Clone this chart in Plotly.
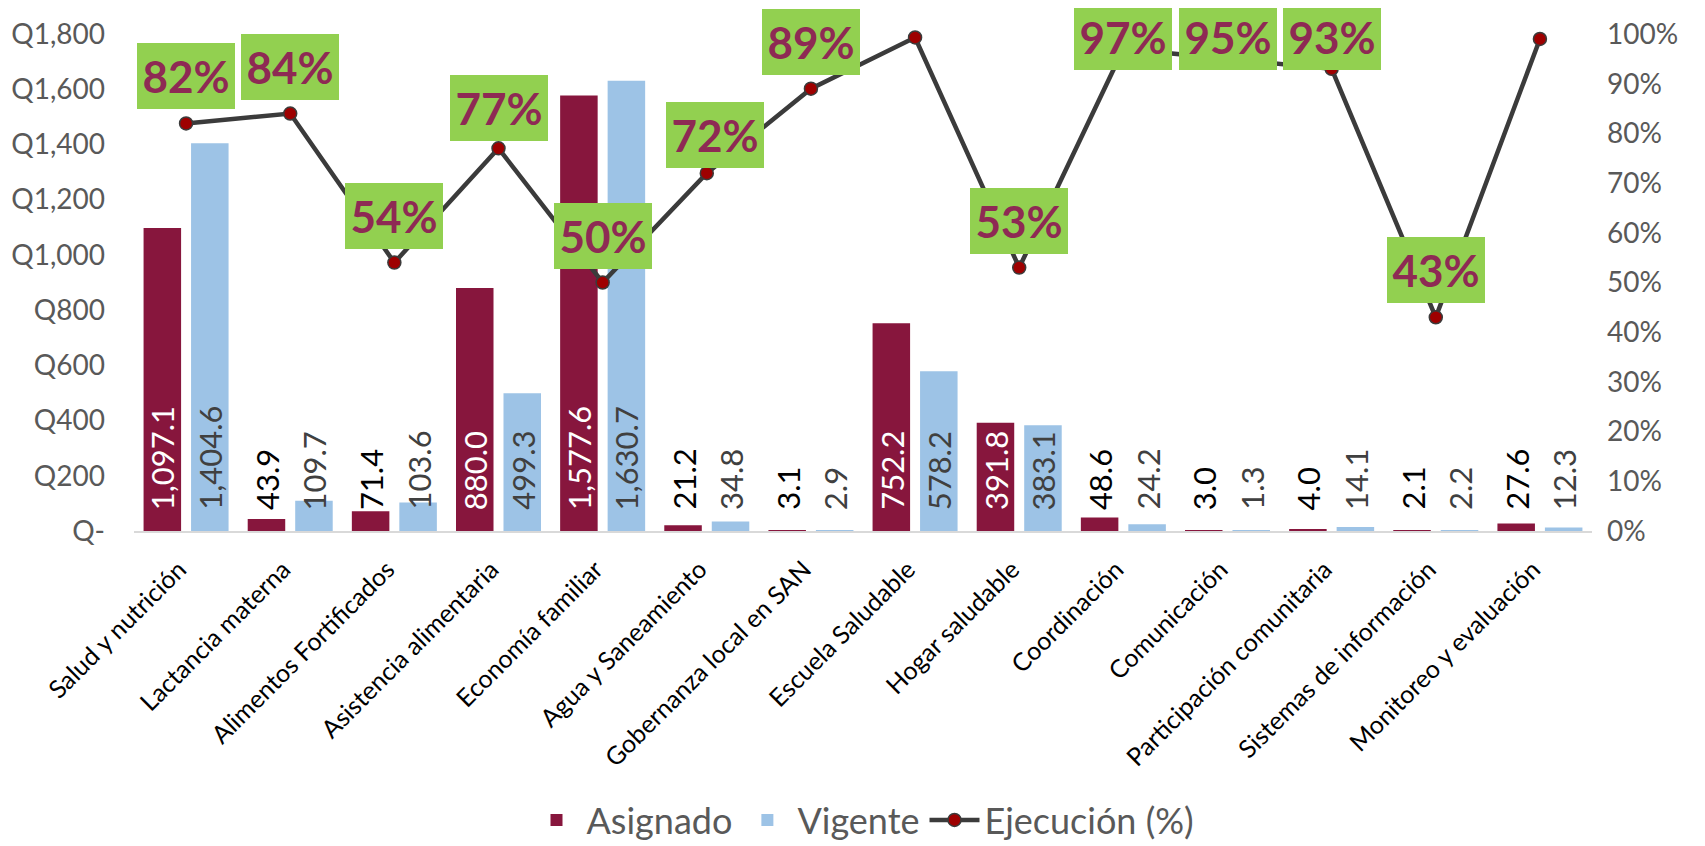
import plotly.graph_objects as go

categorias = [
    "Salud y nutrición", "Lactancia materna", "Alimentos Fortificados",
    "Asistencia alimentaria", "Economía familiar", "Agua y Saneamiento",
    "Gobernanza local en SAN", "Escuela Saludable", "Hogar saludable",
    "Coordinación", "Comunicación", "Participación comunitaria",
    "Sistemas de información", "Monitoreo y evaluación",
]
asignado = [1097.1, 43.9, 71.4, 880.0, 1577.6, 21.2, 3.1, 752.2, 391.8, 48.6, 3.0, 4.0, 2.1, 27.6]
vigente = [1404.6, 109.7, 103.6, 499.3, 1630.7, 34.8, 2.9, 578.2, 383.1, 24.2, 1.3, 14.1, 2.2, 12.3]
ejecucion = [0.82, 0.84, 0.54, 0.77, 0.50, 0.72, 0.89, 0.993, 0.53, 0.97, 0.95, 0.93, 0.43, 0.99]
etiquetas_ejecucion = ["82%", "84%", "54%", "77%", "50%", "72%", "89%", None,
                       "53%", "97%", "95%", "93%", "43%", None]
y_tickvals = [0, 200, 400, 600, 800, 1000, 1200, 1400, 1600, 1800]
y_ticktext = ["Q-", "Q200", "Q400", "Q600", "Q800", "Q1,000", "Q1,200", "Q1,400", "Q1,600", "Q1,800"]

FONT = "Lato"
# the page has an 8px body margin: the figure starts at (8, 8) in the window
W, H = 1697, 838
M_L, M_R, M_T, M_B = 126, 113, 26, 315
PLOT_H = H - M_T - M_B
BARGAP = 0.088
BARGROUPGAP = 0.21
C_ASIG = "#87163D"
C_VIG = "#9DC3E6"
C_LINE = "#3B3B3B"

idx = list(range(len(categorias)))

fig = go.Figure()
fig.add_trace(go.Bar(name="Asignado", x=idx, y=asignado, marker_color=C_ASIG,
                     marker_line_width=0))
fig.add_trace(go.Bar(name="Vigente", x=idx, y=vigente, marker_color=C_VIG,
                     marker_line_width=0))
fig.add_trace(go.Scatter(name="Ejecución (%)", x=idx, y=ejecucion, yaxis="y2",
                         mode="lines+markers", cliponaxis=False,
                         line=dict(color=C_LINE, width=4.5),
                         marker=dict(size=13, color="#9E0000",
                                     line=dict(color=C_LINE, width=1.5))))

annotations = []
slot = (1 - BARGAP) / 2
off = slot / 2
for i in idx:
    for val, dx, is_asig in ((asignado[i], -off, True), (vigente[i], off, False)):
        if is_asig:
            color = "#FFFFFF" if val > 300 else "#000000"
        else:
            color = "#404040"
        annotations.append(dict(
            x=i + dx, y=0, xref="x", yref="y", text=f"{val:,.1f}",
            textangle=-90, showarrow=False, yanchor="bottom", xanchor="center",
            yshift=19, font=dict(family=FONT, size=31, color=color)))

# small manual nudges of some labels (pixels: dx, dy-down)
nudges = {3: (0, 7), 5: (8, 9)}
for i in idx:
    lab = etiquetas_ejecucion[i]
    if not lab:
        continue
    yp = (1 - ejecucion[i]) * PLOT_H
    center = max(yp - 47, 3)
    ndx, ndy = nudges.get(i, (0, 0))
    annotations.append(dict(
        x=i, y=ejecucion[i], xref="x", yref="y2", text=f"<b>{lab}</b>",
        showarrow=False, xanchor="center", yanchor="middle",
        yshift=yp - center - ndy, xshift=ndx,
        bgcolor="#92D050", width=98, height=66, borderpad=0, borderwidth=0,
        font=dict(family=FONT, size=44, color="#8E2A54")))

fig.update_layout(
    width=W, height=H,
    margin=dict(l=M_L, r=M_R, t=M_T, b=M_B, autoexpand=False),
    paper_bgcolor="white", plot_bgcolor="white",
    font=dict(family=FONT),
    barmode="group", bargap=BARGAP, bargroupgap=BARGROUPGAP,
    showlegend=True,
    legend=dict(orientation="h", x=0.5, xanchor="center", yref="container",
                y=1 - 812 / H, yanchor="middle", font=dict(size=36, color="#595959"),
                itemwidth=50, traceorder="normal", borderwidth=0),
    xaxis=dict(range=[-0.5, len(categorias) - 0.5], tickmode="array",
               tickvals=idx, ticktext=categorias, tickangle=-45,
               tickfont=dict(size=25, color="#000000"),
               ticklabelstandoff=12, ticklabelshift=-7, automargin=False,
               showline=True, linecolor="#D9D9D9", linewidth=2,
               showgrid=False, zeroline=False, ticks=""),
    yaxis=dict(range=[0, 1800], tickmode="array", tickvals=y_tickvals,
               ticktext=y_ticktext, showgrid=False, zeroline=False, automargin=False,
               tickfont=dict(size=28, color="#595959"), ticklabelstandoff=28),
    yaxis2=dict(range=[0, 1], overlaying="y", side="right", dtick=0.1,
                tickformat=".0%", showgrid=False, zeroline=False, automargin=False,
                tickfont=dict(size=28, color="#595959"), ticklabelstandoff=14),
    annotations=annotations,
)

fig.write_html("out.html")
